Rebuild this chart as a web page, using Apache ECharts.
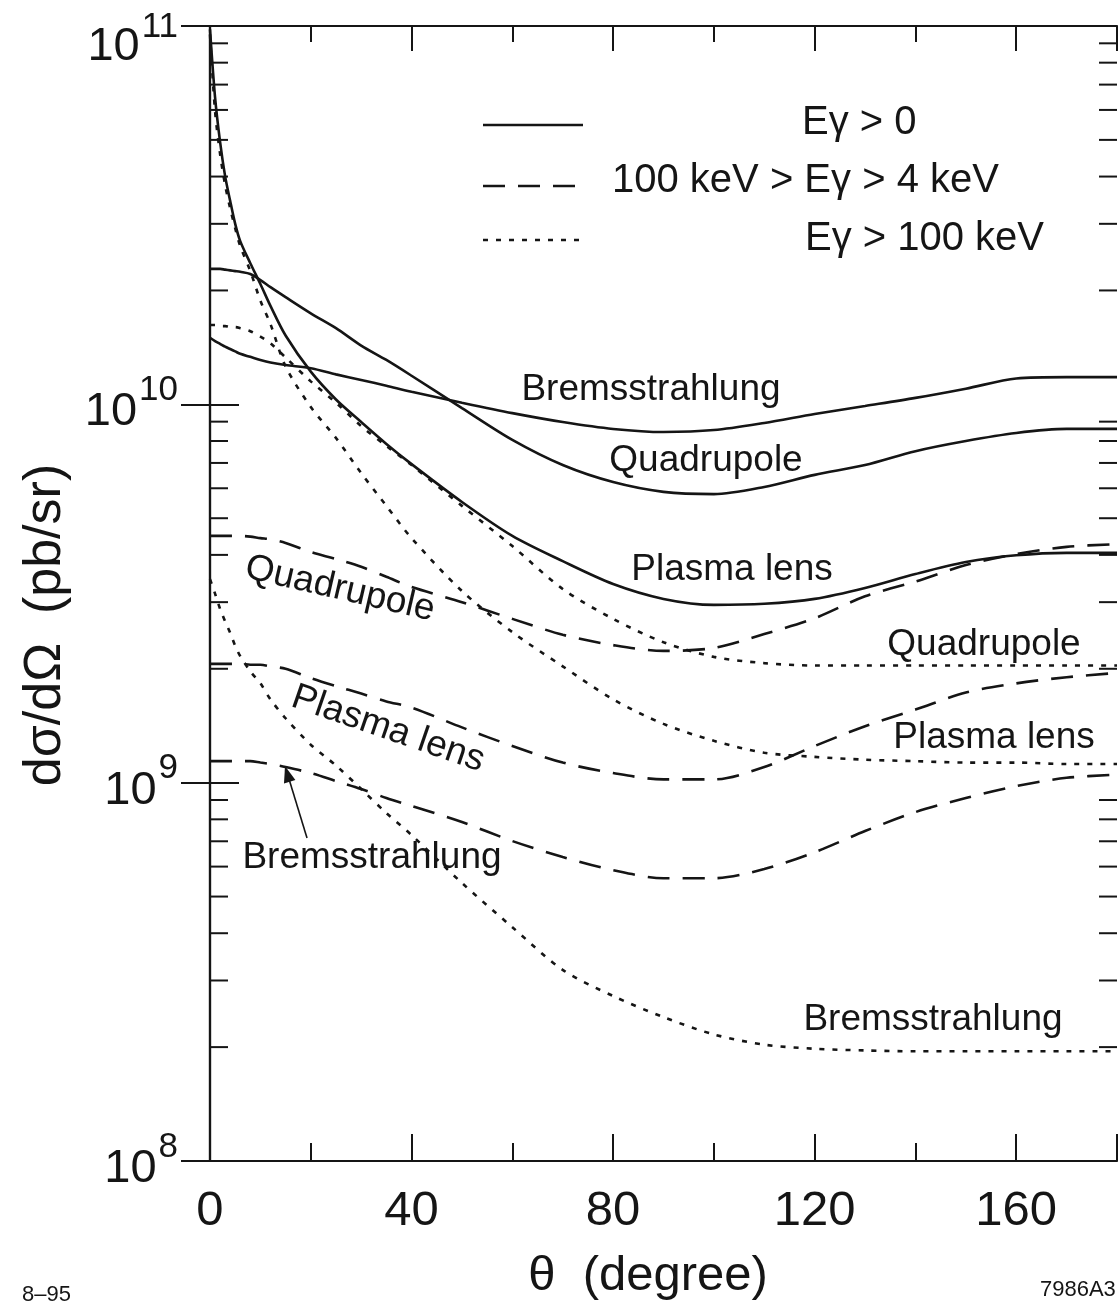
<!DOCTYPE html>
<html>
<head>
<meta charset="utf-8">
<script src="https://cdn.jsdelivr.net/npm/echarts@6/dist/echarts.min.js"></script>
<style>
  html, body { margin: 0; padding: 0; background: #ffffff; }
  #chart { width: 1120px; height: 1309px; }
</style>
</head>
<body>
<div id="chart"></div>
<script>
// ---- Data (angles in degrees, cross-sections in pb/sr) ----
const thetaDeg = [0, 1, 2, 3, 4, 5, 6, 8, 10, 12, 15, 20, 25, 30, 35, 40, 50, 60, 70, 80, 90, 100, 110, 120, 130, 140, 150, 160, 170, 180];

// E_gamma > 0 (solid)
const bremsTotal  = [1.50e10, 1.47e10, 1.445e10, 1.42e10, 1.40e10, 1.38e10, 1.36e10, 1.335e10, 1.31e10, 1.29e10, 1.27e10, 1.245e10, 1.20e10, 1.16e10, 1.12e10, 1.08e10, 1.01e10, 9.48e9, 8.98e9, 8.61e9, 8.45e9, 8.55e9, 8.93e9, 9.43e9, 9.90e9, 1.04e10, 1.10e10, 1.17e10, 1.18e10, 1.18e10];
const quadTotal   = [2.28e10, 2.28e10, 2.28e10, 2.27e10, 2.26e10, 2.25e10, 2.24e10, 2.21e10, 2.13e10, 2.04e10, 1.92e10, 1.74e10, 1.59e10, 1.43e10, 1.31e10, 1.19e10, 9.77e9, 8.05e9, 6.91e9, 6.23e9, 5.87e9, 5.79e9, 6.05e9, 6.51e9, 6.91e9, 7.52e9, 8.00e9, 8.40e9, 8.61e9, 8.61e9];
const plasmaTotal = [9.8e10, 6.49e10, 4.94e10, 4.01e10, 3.45e10, 3.00e10, 2.70e10, 2.36e10, 2.08e10, 1.82e10, 1.52e10, 1.22e10, 1.03e10, 8.98e9, 7.86e9, 6.95e9, 5.52e9, 4.49e9, 3.85e9, 3.35e9, 3.06e9, 2.95e9, 2.97e9, 3.06e9, 3.27e9, 3.56e9, 3.83e9, 3.99e9, 4.05e9, 4.05e9];

// 100 keV > E_gamma > 4 keV (dashed)
const quadMid   = [4.49e9, 4.49e9, 4.49e9, 4.49e9, 4.49e9, 4.49e9, 4.49e9, 4.47e9, 4.43e9, 4.40e9, 4.30e9, 4.07e9, 3.90e9, 3.72e9, 3.50e9, 3.29e9, 3.00e9, 2.71e9, 2.46e9, 2.31e9, 2.23e9, 2.27e9, 2.47e9, 2.72e9, 3.11e9, 3.40e9, 3.76e9, 4.02e9, 4.20e9, 4.27e9];
const plasmaMid = [2.06e9, 2.06e9, 2.06e9, 2.06e9, 2.06e9, 2.06e9, 2.06e9, 2.05e9, 2.05e9, 2.03e9, 2.00e9, 1.89e9, 1.80e9, 1.72e9, 1.64e9, 1.58e9, 1.40e9, 1.25e9, 1.13e9, 1.06e9, 1.02e9, 1.02e9, 1.10e9, 1.25e9, 1.41e9, 1.56e9, 1.73e9, 1.83e9, 1.90e9, 1.95e9];
const bremsMid  = [1.14e9, 1.14e9, 1.14e9, 1.14e9, 1.14e9, 1.14e9, 1.14e9, 1.14e9, 1.13e9, 1.12e9, 1.10e9, 1.06e9, 1.01e9, 9.62e8, 9.11e8, 8.68e8, 7.87e8, 7.01e8, 6.36e8, 5.87e8, 5.59e8, 5.59e8, 5.91e8, 6.55e8, 7.45e8, 8.36e8, 9.11e8, 9.79e8, 1.03e9, 1.05e9];

// E_gamma > 100 keV (dotted)
const quadHigh   = [1.62e10, 1.62e10, 1.61e10, 1.61e10, 1.60e10, 1.60e10, 1.59e10, 1.56e10, 1.51e10, 1.45e10, 1.33e10, 1.15e10, 1.01e10, 8.76e9, 7.76e9, 6.91e9, 5.39e9, 4.22e9, 3.25e9, 2.71e9, 2.35e9, 2.15e9, 2.07e9, 2.04e9, 2.04e9, 2.04e9, 2.04e9, 2.04e9, 2.04e9, 2.04e9];
const plasmaHigh = [9.5e10, 5.96e10, 4.59e10, 3.80e10, 3.30e10, 2.92e10, 2.62e10, 2.25e10, 1.88e10, 1.63e10, 1.26e10, 9.84e9, 8.15e9, 6.58e9, 5.39e9, 4.43e9, 3.21e9, 2.50e9, 2.03e9, 1.66e9, 1.43e9, 1.29e9, 1.20e9, 1.17e9, 1.15e9, 1.14e9, 1.13e9, 1.13e9, 1.12e9, 1.12e9];
const bremsHigh  = [3.45e9, 3.16e9, 2.88e9, 2.67e9, 2.49e9, 2.30e9, 2.16e9, 1.97e9, 1.83e9, 1.66e9, 1.48e9, 1.26e9, 1.11e9, 9.62e8, 8.31e8, 7.27e8, 5.43e8, 4.15e8, 3.20e8, 2.73e8, 2.40e8, 2.16e8, 2.03e8, 1.98e8, 1.96e8, 1.95e8, 1.95e8, 1.95e8, 1.95e8, 1.95e8];

// axis ticks
const xMajorTicks = [0, 40, 80, 120, 160];
const yDecades = [1e8, 1e9, 1e10, 1e11];
const yMinorMantissas = [2, 3, 4, 5, 6, 7, 8, 9];

// legend entries
const legendEntries = [
  { text: 'E\u03b3 > 0', style: 'solid' },
  { text: '100 keV > E\u03b3 > 4 keV', style: 'dashed' },
  { text: 'E\u03b3 > 100 keV', style: 'dotted' }
];

// ---- Styling ----
const INK = '#151515';
const FONT = '"Liberation Sans", Arial, Helvetica, sans-serif';
const DASH = { solid: 'solid', dashed: [22, 13], dotted: [5, 8] };

function pairs(ys) { return thetaDeg.map((t, i) => [t, ys[i]]); }

const minorTickData = [];
yDecades.slice(0, -1).forEach(d => yMinorMantissas.forEach(m => minorTickData.push([0, d * m])));

function curve(name, ys, style) {
  return {
    name: name, type: 'line', xAxisIndex: 0, yAxisIndex: 0,
    data: pairs(ys), showSymbol: false, symbol: 'none',
    smooth: 0.3, silent: true,
    lineStyle: { color: INK, width: 2.6, type: DASH[style] }
  };
}

const chart = echarts.init(document.getElementById('chart'), null, { renderer: 'canvas' });

const xBase = { type: 'value', min: 0, max: 180, splitLine: { show: false } };
const yBase = { type: 'log', logBase: 10, min: 1e8, max: 1e11, splitLine: { show: false } };

const graphics = [];
// legend samples + texts
const legendY = [125, 186, 240];
const legendTextPos = [[802, 123], [612, 181], [805, 239]];
legendEntries.forEach((e, i) => {
  graphics.push({ type: 'line', shape: { x1: 483, y1: legendY[i], x2: 583, y2: legendY[i] },
    style: { stroke: INK, lineWidth: 2.6, lineDash: e.style === 'solid' ? null : DASH[e.style] } });
  graphics.push({ type: 'text', x: legendTextPos[i][0], y: legendTextPos[i][1],
    style: { text: e.text, font: '40px ' + FONT, fill: INK, textAlign: 'left', textVerticalAlign: 'middle', verticalAlign: 'middle' } });
});
// curve annotations
function note(text, x, y, deg) {
  graphics.push({ type: 'text', x: x, y: y, rotation: -(deg || 0) * Math.PI / 180,
    style: { text: text, font: '37px ' + FONT, fill: INK, textAlign: 'center', textVerticalAlign: 'middle', verticalAlign: 'middle' } });
}
note('Bremsstrahlung', 651, 390);
note('Quadrupole', 706, 461);
note('Plasma lens', 732, 570);
note('Quadrupole', 340, 589, 13);
note('Plasma lens', 388, 729, 19);
note('Bremsstrahlung', 372, 858);
note('Quadrupole', 984, 645);
note('Plasma lens', 994, 738);
note('Bremsstrahlung', 933, 1020);
// arrow
graphics.push({ type: 'line', shape: { x1: 307, y1: 838, x2: 289, y2: 779 }, style: { stroke: INK, lineWidth: 1.6 } });
graphics.push({ type: 'polygon', shape: { points: [[285, 766], [295.4, 780], [284, 783.5]] }, style: { fill: INK } });
// axis titles
graphics.push({ type: 'text', x: 46, y: 625, rotation: Math.PI / 2,
  style: { text: 'd\u03c3/d\u03a9  (pb/sr)', font: '52px ' + FONT, fill: INK, textAlign: 'center', textVerticalAlign: 'middle', verticalAlign: 'middle' } });
graphics.push({ type: 'text', x: 648, y: 1276,
  style: { text: '\u03b8  (degree)', font: '49px ' + FONT, fill: INK, textAlign: 'center', textVerticalAlign: 'middle', verticalAlign: 'middle' } });
// figure codes
graphics.push({ type: 'text', x: 22, y: 1295, style: { text: '8\u201395', font: '22px ' + FONT, fill: INK, textAlign: 'left', textVerticalAlign: 'middle', verticalAlign: 'middle' } });
graphics.push({ type: 'text', x: 1040, y: 1290, style: { text: '7986A3', font: '22px ' + FONT, fill: INK, textAlign: 'left', textVerticalAlign: 'middle', verticalAlign: 'middle' } });

const option = {
  backgroundColor: '#ffffff',
  animation: false,
  grid: { left: 210, right: 3, top: 26, bottom: 148, containLabel: false },
  xAxis: [
    Object.assign({}, xBase, {
      position: 'bottom', interval: 40,
      axisLine: { show: true, lineStyle: { color: INK, width: 2.2 } },
      axisTick: { show: true, inside: true, length: 27, lineStyle: { color: INK, width: 2 } },
      axisLabel: { show: true, margin: 26, fontSize: 49, fontFamily: FONT, color: INK,
        formatter: v => (xMajorTicks.indexOf(v) >= 0 ? String(v) : '') }
    }),
    Object.assign({}, xBase, {
      position: 'bottom', interval: 20,
      axisLine: { show: false },
      axisTick: { show: true, inside: true, length: 18, lineStyle: { color: INK, width: 2 } },
      axisLabel: { show: false }
    }),
    Object.assign({}, xBase, {
      position: 'top', interval: 40,
      axisLine: { show: true, lineStyle: { color: INK, width: 2.2 } },
      axisTick: { show: true, inside: true, length: 25, lineStyle: { color: INK, width: 2 } },
      axisLabel: { show: false }
    }),
    Object.assign({}, xBase, {
      position: 'top', interval: 20,
      axisLine: { show: false },
      axisTick: { show: true, inside: true, length: 16, lineStyle: { color: INK, width: 2 } },
      axisLabel: { show: false }
    })
  ],
  yAxis: [
    Object.assign({}, yBase, {
      position: 'left',
      axisLine: { show: true, lineStyle: { color: INK, width: 2.2 } },
      axisTick: { show: true, inside: true, length: 29, lineStyle: { color: INK, width: 2 } },
      axisLabel: {
        show: true, margin: 32, color: INK, fontFamily: FONT,
        formatter: v => {
          const e = Math.round(Math.log10(v));
          return v >= 1e11 ? '{bt|10}{st|' + e + '}' : '{b|10}{s|' + e + '}';
        },
        rich: {
          b:  { fontSize: 47, fontFamily: FONT, color: INK, padding: [16, 0, 0, 0], verticalAlign: 'top' },
          s:  { fontSize: 35, fontFamily: FONT, color: INK, padding: [0, 0, 0, 2], verticalAlign: 'top' },
          bt: { fontSize: 47, fontFamily: FONT, color: INK, padding: [42, 0, 0, 0], verticalAlign: 'top' },
          st: { fontSize: 35, fontFamily: FONT, color: INK, padding: [28, 0, 0, 2], verticalAlign: 'top' }
        }
      }
    }),
    Object.assign({}, yBase, {
      position: 'right',
      axisLine: { show: true, lineStyle: { color: INK, width: 2.2 } },
      axisTick: { show: true, inside: true, length: 29, lineStyle: { color: INK, width: 2 } },
      axisLabel: { show: false }
    })
  ],
  series: [
    curve('Bremsstrahlung, E\u03b3 > 0', bremsTotal, 'solid'),
    curve('Quadrupole, E\u03b3 > 0', quadTotal, 'solid'),
    curve('Plasma lens, E\u03b3 > 0', plasmaTotal, 'solid'),
    curve('Quadrupole, 100 keV > E\u03b3 > 4 keV', quadMid, 'dashed'),
    curve('Plasma lens, 100 keV > E\u03b3 > 4 keV', plasmaMid, 'dashed'),
    curve('Bremsstrahlung, 100 keV > E\u03b3 > 4 keV', bremsMid, 'dashed'),
    curve('Quadrupole, E\u03b3 > 100 keV', quadHigh, 'dotted'),
    curve('Plasma lens, E\u03b3 > 100 keV', plasmaHigh, 'dotted'),
    curve('Bremsstrahlung, E\u03b3 > 100 keV', bremsHigh, 'dotted'),
    {
      name: 'minor log ticks', type: 'custom', xAxisIndex: 0, yAxisIndex: 0, silent: true,
      data: minorTickData, encode: { x: 0, y: 1 }, clip: false,
      renderItem: (params, api) => {
        const v = api.value(1);
        const pL = api.coord([0, v]);
        const pR = api.coord([180, v]);
        const len = 18;
        return { type: 'group', children: [
          { type: 'line', shape: { x1: pL[0], y1: pL[1], x2: pL[0] + len, y2: pL[1] }, style: { stroke: INK, lineWidth: 2 } },
          { type: 'line', shape: { x1: pR[0] - len, y1: pR[1], x2: pR[0], y2: pR[1] }, style: { stroke: INK, lineWidth: 2 } }
        ] };
      }
    }
  ],
  graphic: graphics
};

chart.setOption(option);
</script>
</body>
</html>
